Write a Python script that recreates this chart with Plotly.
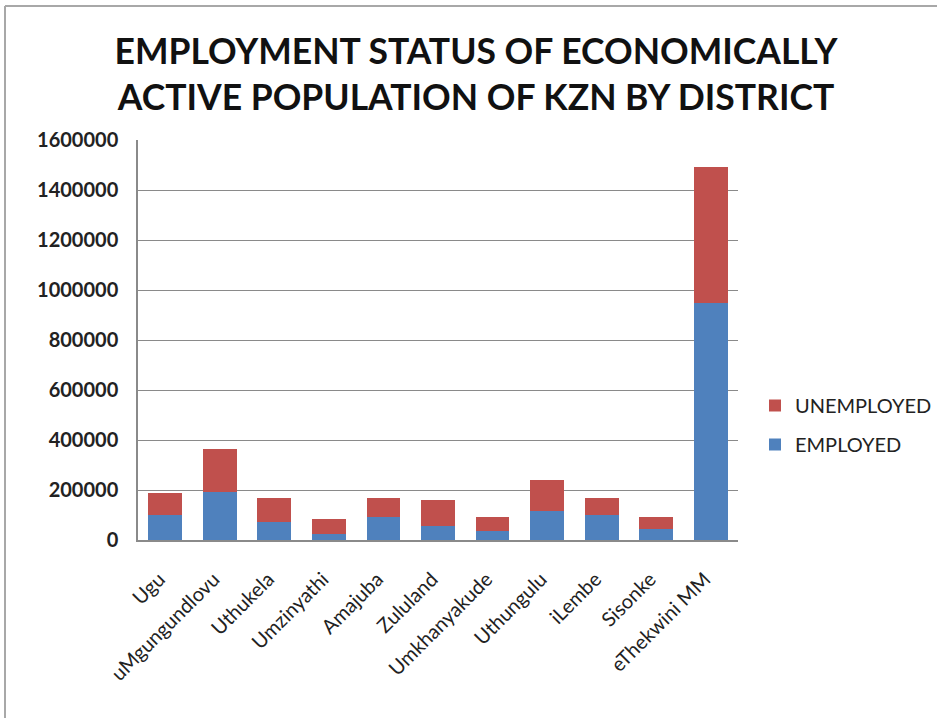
import plotly.graph_objects as go

# KZN economically active population by district
districts = ["Ugu", "uMgungundlovu", "Uthukela", "Umzinyathi", "Amajuba", "Zululand",
             "Umkhanyakude", "Uthungulu", "iLembe", "Sisonke", "eThekwini MM"]
employed = [100000, 193000, 71000, 25000, 91000, 56000, 37000, 117000, 100000, 43000, 947000]
unemployed = [87000, 170000, 98000, 59000, 77000, 105000, 56000, 123000, 69000, 50000, 546000]
y_ticks = [0, 200000, 400000, 600000, 800000, 1000000, 1200000, 1400000, 1600000]

W, H = 937, 718
L, R, T, B = 138, 199, 140, 178
PW, PH = W - L - R, H - T - B


def px_x(px):
    return (px - L) / PW


def px_y(py):
    return (H - B - py) / PH


BLUE = "#4F81BD"
RED = "#C0504D"
GRID = "#8A8A8A"

fig = go.Figure()
fig.add_trace(go.Bar(x=districts, y=employed, name="EMPLOYED", marker_color=BLUE,
                     marker_line_width=0, legendgroup="emp", legendrank=2))
fig.add_trace(go.Bar(x=districts, y=unemployed, name="UNEMPLOYED", marker_color=RED,
                     marker_line_width=0, legendgroup="unemp", legendrank=1))

fig.update_layout(
    width=W, height=H,
    margin=dict(l=L, r=R, t=T, b=B, autoexpand=False),
    paper_bgcolor="white", plot_bgcolor="white",
    barmode="stack", bargap=0.38,
    title=dict(
        text="EMPLOYMENT STATUS OF ECONOMICALLY<br>ACTIVE POPULATION OF KZN BY DISTRICT",
        x=476 / W, xanchor="center", xref="container",
        y=1 - 64 / H, yanchor="top", yref="container",
        font=dict(family="Lato", size=35.5, color="#111111", weight="bold"),
    ),
    legend=dict(
        x=px_x(755), xanchor="left", y=px_y(386), yanchor="top",
        traceorder="grouped", tracegroupgap=10,
        font=dict(family="Lato", size=20, color="#222222"),
        itemwidth=30, bgcolor="rgba(0,0,0,0)",
    ),
    showlegend=True,
    shapes=[
        dict(type="line", xref="paper", yref="paper", x0=px_x(5), x1=px_x(W + 60),
             y0=px_y(6), y1=px_y(6), line=dict(color="#A8A8A8", width=2)),
        dict(type="line", xref="paper", yref="paper", x0=px_x(5), x1=px_x(5),
             y0=px_y(6), y1=px_y(H + 60), line=dict(color="#A8A8A8", width=2)),
    ],
)

fig.update_xaxes(
    showline=True, linecolor=GRID, linewidth=1.5,
    showgrid=False, ticks="", tickangle=-45,
    ticklabelstandoff=18, ticklabelshift=-6,
    tickfont=dict(family="Lato", size=20, color="#222222"),
)
fig.update_yaxes(
    range=[0, 1600000], tickvals=y_ticks, ticktext=[str(v) for v in y_ticks],
    showline=True, linecolor=GRID, linewidth=1.5,
    showgrid=True, gridcolor=GRID, gridwidth=1.2,
    zeroline=False, ticks="", ticklabelstandoff=14,
    tickfont=dict(family="Lato", size=20, color="#222222", weight="bold"),
)

fig.write_html("out.html")
